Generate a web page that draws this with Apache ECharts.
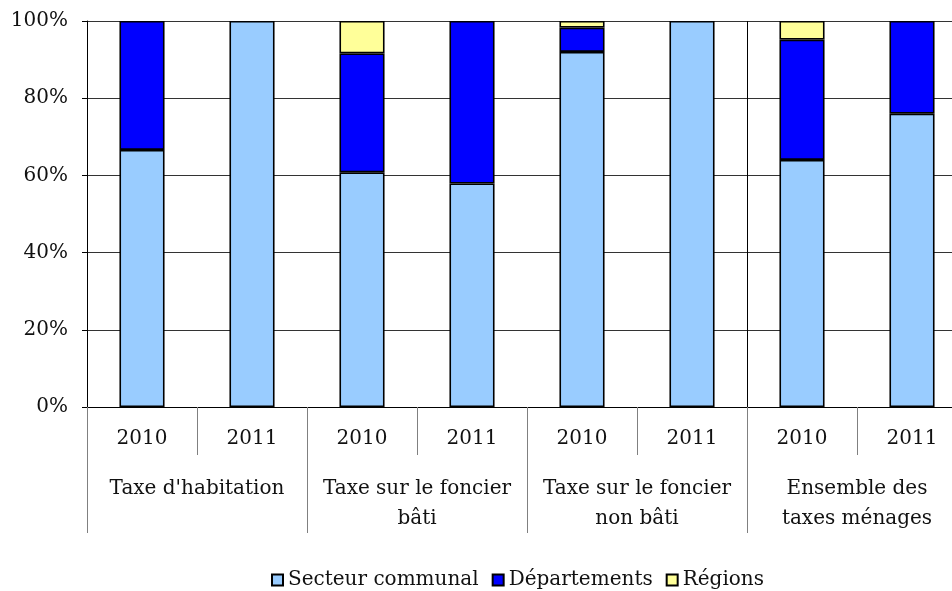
<!DOCTYPE html>
<html>
<head>
<meta charset="utf-8">
<script src="https://cdn.jsdelivr.net/npm/echarts@6/dist/echarts.min.js"></script>
<style>
  html, body { margin: 0; padding: 0; background: #fff; overflow: hidden; }
  /* le graphique original est coupé à droite : zone plus large que la fenêtre */
  #chart { width: 968px; height: 591px; }
</style>
</head>
<body>
<div id="chart"></div>
<script>
// années (axe du bas, niveau 1)
var years = ["2010", "2011", "2010", "2011", "2010", "2011", "2010", "2011"];
// taxes (axe du bas, niveau 2)
var groups = [
  "Taxe d'habitation",
  "Taxe sur le foncier\nbâti",
  "Taxe sur le foncier\nnon bâti",
  "Ensemble des\ntaxes ménages"
];
// parts en %
var secteurCommunal = [66.6, 100, 60.8, 57.9, 92.0, 100, 64.0, 76.0];
var departements = [33.4, 0, 30.8, 42.1, 6.3, 0, 31.2, 24.0];
var regions = [0, 0, 8.4, 0, 1.7, 0, 4.8, 0];
var yTicks = [0, 20, 40, 60, 80, 100];

var font = "DejaVu Serif";

var chart = echarts.init(document.getElementById("chart"));

function barSerie(name, data, color) {
  return {
    name: name,
    type: "bar",
    stack: "total",
    barWidth: "41%",
    // pas de segment pour les parts nulles
    data: data.map(function (v) { return v === 0 ? "-" : v; }),
    itemStyle: { color: color, borderColor: "#000", borderWidth: 1.6 },
    emphasis: { disabled: true }
  };
}

var option = {
  animation: false,
  textStyle: { fontFamily: font },
  grid: { left: 87, right: 1, top: 21, bottom: 184, containLabel: false },
  legend: {
    left: 271,
    top: 570,
    padding: 0,
    itemWidth: 11,
    itemHeight: 11,
    itemGap: 13,
    icon: "rect",
    textStyle: { fontFamily: font, fontSize: 20, color: "#111" },
    data: ["Secteur communal", "Départements", "Régions"]
  },
  xAxis: [
    {
      type: "category",
      data: years,
      axisLine: { lineStyle: { color: "#000", width: 1 } },
      axisTick: { show: true, interval: 0, length: 48, lineStyle: { color: "#808080" } },
      axisLabel: { interval: 0, margin: 22, fontSize: 20, color: "#111", fontFamily: font }
    },
    {
      type: "category",
      data: groups,
      position: "bottom",
      axisLine: { show: false },
      axisTick: { show: true, interval: 0, length: 126, lineStyle: { color: "#808080" } },
      axisLabel: { interval: 0, margin: 67, fontSize: 20, lineHeight: 30, color: "#111", fontFamily: font },
      splitLine: { show: false }
    },
    {
      // trait vertical entre la 3e et la 4e taxe
      type: "value",
      position: "top",
      min: 0,
      max: years.length,
      interval: 6,
      axisLine: { show: false },
      axisTick: { show: false },
      axisLabel: { show: false },
      splitLine: { show: true, lineStyle: { color: "#000", width: 1 } }
    }
  ],
  yAxis: {
    type: "value",
    min: yTicks[0],
    max: yTicks[yTicks.length - 1],
    interval: 20,
    axisLine: { show: true, lineStyle: { color: "#000" } },
    axisTick: { show: true, length: 5, lineStyle: { color: "#000" } },
    axisLabel: { margin: 19, fontSize: 20, color: "#111", fontFamily: font, formatter: "{value}%" },
    splitLine: { show: true, lineStyle: { color: "#333", width: 1 } }
  },
  series: [
    barSerie("Secteur communal", secteurCommunal, "#99CCFF"),
    barSerie("Départements", departements, "#0000FF"),
    barSerie("Régions", regions, "#FFFF99")
  ]
};

chart.setOption(option);
</script>
</body>
</html>
